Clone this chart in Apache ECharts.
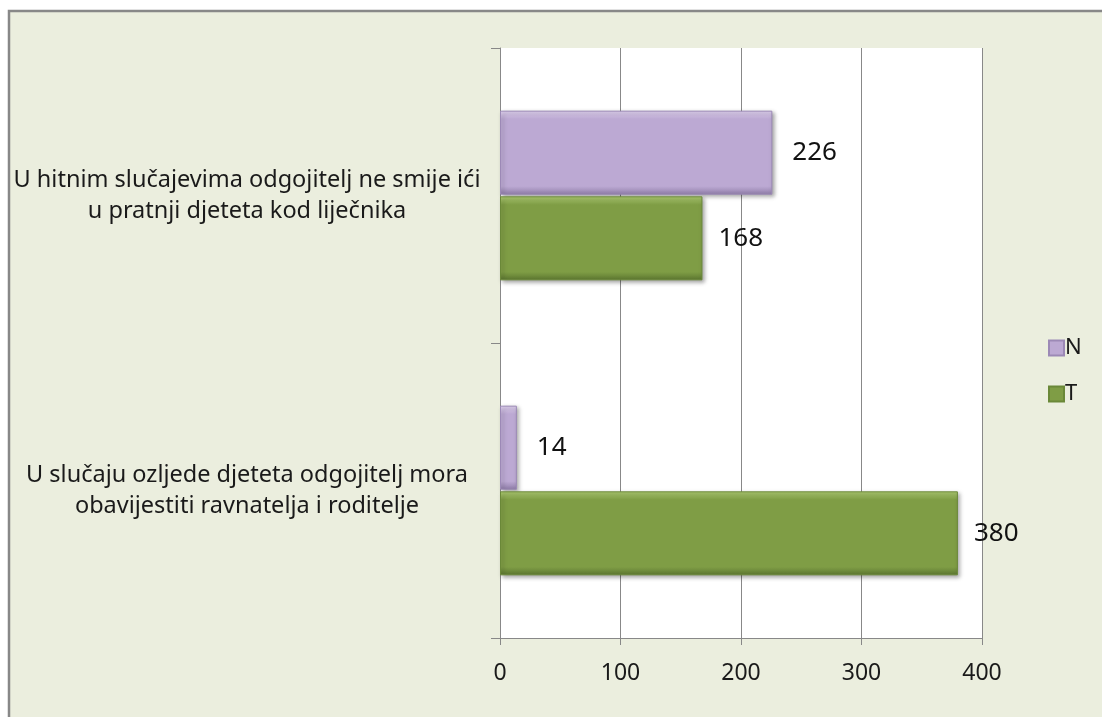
<!DOCTYPE html>
<html>
<head>
<meta charset="utf-8">
<script src="https://cdn.jsdelivr.net/npm/echarts@6/dist/echarts.min.js"></script>
<style>
html,body{margin:0;padding:0;background:#ffffff;}
#chart{width:1102px;height:717px;}
</style>
</head>
<body>
<div id="chart"></div>
<script>
// Categories bottom-to-top (as in the original chart)
var categories = [
  'U slučaju ozljede djeteta odgojitelj mora\nobavijestiti ravnatelja i roditelje',
  'U hitnim slučajevima odgojitelj ne smije ići\nu pratnji djeteta kod liječnika'
];
var valuesN = [14, 226];
var valuesT = [380, 168];
var xTicks = [0, 100, 200, 300, 400];

var FONT = '"Noto Sans", "Open Sans", sans-serif';

function bevel(light, base, dark) {
  return {
    type: 'linear', x: 0, y: 0, x2: 0, y2: 1,
    colorStops: [
      {offset: 0, color: light},
      {offset: 0.1, color: base},
      {offset: 0.9, color: base},
      {offset: 1, color: dark}
    ]
  };
}

var chart = echarts.init(document.getElementById('chart'), null, {renderer: 'canvas'});
var option = {
  backgroundColor: '#ffffff',
  animation: false,
  graphic: [{
    type: 'rect',
    z: -10,
    silent: true,
    shape: {x: 9, y: 11, width: 1100, height: 720},
    style: {fill: '#EBEEDE', stroke: '#888888', lineWidth: 2.5}
  }],
  grid: {
    left: 500, right: 120, top: 48, bottom: 79,
    show: true, backgroundColor: '#ffffff', borderWidth: 0
  },
  legend: {
    orient: 'vertical',
    left: 1043, top: 332,
    itemWidth: 15, itemHeight: 15, itemGap: 24,
    icon: 'rect',
    data: ['N', 'T'],
    textStyle: {fontSize: 22, color: '#1a1a1a', fontFamily: FONT, padding: [0, 0, 0, -4]}
  },
  xAxis: {
    type: 'value',
    min: xTicks[0], max: xTicks[xTicks.length - 1], interval: 100,
    axisLine: {show: true, lineStyle: {color: '#888888', width: 1}},
    axisTick: {show: true, length: 7, lineStyle: {color: '#888888'}},
    splitLine: {show: true, lineStyle: {color: '#888888', width: 1}},
    axisLabel: {fontSize: 23, color: '#1a1a1a', fontFamily: FONT, margin: 24}
  },
  yAxis: {
    type: 'category',
    data: categories,
    axisLine: {show: true, lineStyle: {color: '#888888', width: 1}},
    axisTick: {show: true, length: 9, lineStyle: {color: '#888888'}},
    axisLabel: {
      fontSize: 23.5, color: '#1a1a1a', fontFamily: FONT,
      align: 'center', margin: 253, lineHeight: 31, padding: [8, 0, 0, 0]
    }
  },
  series: [
    {
      name: 'N', type: 'bar', data: valuesN,
      barWidth: 84, barGap: '2%',
      itemStyle: {
        color: bevel('#E2D4F2', '#BCA9D3', '#8F7DA8'),
        borderColor: '#9C89B6', borderWidth: 1,
        shadowColor: 'rgba(0,0,0,0.35)', shadowBlur: 4, shadowOffsetX: 2, shadowOffsetY: 2
      },
      label: {show: true, position: 'right', distance: 20, fontSize: 26, color: '#111', fontFamily: FONT}
    },
    {
      name: 'T', type: 'bar', data: valuesT,
      barWidth: 84, barGap: '2%',
      itemStyle: {
        color: bevel('#B0CE74', '#7F9D45', '#5B7630'),
        borderColor: '#6A8838', borderWidth: 1,
        shadowColor: 'rgba(0,0,0,0.35)', shadowBlur: 4, shadowOffsetX: 2, shadowOffsetY: 2
      },
      label: {show: true, position: 'right', distance: 16, fontSize: 26, color: '#111', fontFamily: FONT}
    }
  ]
};
chart.setOption(option);
</script>
</body>
</html>
